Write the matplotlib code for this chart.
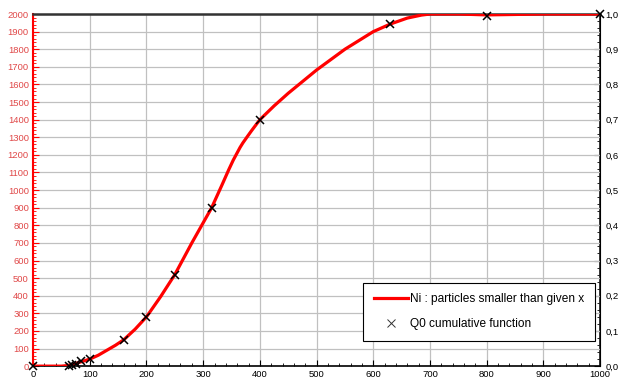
import matplotlib.pyplot as plt
from matplotlib.ticker import MultipleLocator, FuncFormatter

plt.rcParams['font.family'] = ['Liberation Sans', 'DejaVu Sans']

# Ni curve
curve_x = [0, 50, 60, 70, 80, 90, 100, 115, 130, 145, 160, 180, 200, 225, 250, 280, 315,
           322, 333, 345, 353, 360, 365, 370, 377, 385, 392, 400, 425, 450, 500, 550, 600,
           630, 660, 685, 700, 750, 800, 900, 1000]
curve_y = [0, 0, 3, 10, 20, 30, 40, 62, 90, 118, 150, 210, 280, 395, 520, 700, 900,
           950, 1028, 1115, 1170, 1212, 1242, 1268, 1300, 1336, 1366, 1400, 1478, 1550, 1682, 1800, 1900,
           1943, 1977, 1994, 2000, 2000, 1995, 2000, 2000]

# Q0 cumulative function markers
q0_x = [0, 63, 68, 75, 85, 100, 160, 200, 250, 315, 400, 630, 800, 1000]
q0_y = [0, 2, 5, 15, 28, 40, 150, 280, 520, 900, 1400, 1943, 1990, 2000]

red = '#ff0000'
label_red = '#e04848'

fig = plt.figure(figsize=(6.24, 3.83), dpi=100)
ax = fig.add_axes([0.053, 0.044, 0.9087, 0.9194])

ax.plot(curve_x, curve_y, color=red, lw=2.3, label='Ni : particles smaller than given x',
        zorder=3, solid_joinstyle='round')
ax.plot(q0_x, q0_y, 'x', color='black', ms=6, mew=1.1, label='Q0 cumulative function',
        zorder=5, clip_on=False)

ax.set_xlim(0, 1000)
ax.set_ylim(0, 2000)
ax.xaxis.set_major_locator(MultipleLocator(100))
ax.xaxis.set_minor_locator(MultipleLocator(20))
ax.yaxis.set_major_locator(MultipleLocator(100))
ax.yaxis.set_minor_locator(MultipleLocator(20))
ax.grid(True, which='major', color='#c0c0c0', lw=0.9)
ax.set_axisbelow(True)

ax.tick_params(axis='x', which='both', direction='in', labelsize=6.8, colors='black', pad=3)
ax.tick_params(axis='x', which='major', length=4)
ax.tick_params(axis='x', which='minor', length=2)
ax.tick_params(axis='y', which='both', direction='in', labelsize=6.8, colors=red,
               labelcolor=label_red, pad=3)
ax.tick_params(axis='y', which='major', length=4)
ax.tick_params(axis='y', which='minor', length=2)

ax.spines['left'].set_color(red)
ax.spines['left'].set_linewidth(1.5)
ax.spines['bottom'].set_color('black')
ax.spines['bottom'].set_linewidth(1.2)
ax.spines['top'].set_color('#333333')
ax.spines['top'].set_linewidth(1.8)

# right axis 0..1 with comma decimals
ax2 = ax.twinx()
ax2.set_ylim(0, 1)
ax2.yaxis.set_major_locator(MultipleLocator(0.1))
ax2.yaxis.set_minor_locator(MultipleLocator(0.02))
ax2.yaxis.set_major_formatter(FuncFormatter(lambda v, p: f'{v:.1f}'.replace('.', ',')))
ax2.tick_params(axis='y', which='both', direction='in', labelsize=6.8, colors='black', pad=4)
ax2.tick_params(axis='y', which='major', length=4)
ax2.tick_params(axis='y', which='minor', length=2)
ax2.spines['right'].set_color('black')
ax2.spines['right'].set_linewidth(1.2)
for s in ['left', 'top', 'bottom']:
    ax2.spines[s].set_visible(False)
ax.set_zorder(ax2.get_zorder() + 1)
ax.patch.set_visible(False)

# legend handles need the marker a bit lighter than on the plot
handles, labels = ax.get_legend_handles_labels()
leg = ax.legend(handles, labels, loc='lower right', bbox_to_anchor=(0.991, 0.071), fontsize=8.6,
                frameon=True, fancybox=False, edgecolor='black', framealpha=1,
                handlelength=2.9, handletextpad=0.15, borderpad=0.9, labelspacing=1.1,
                borderaxespad=0)
leg.get_frame().set_linewidth(0.8)
leg.set_zorder(10)
leg.legend_handles[1].set_markeredgewidth(0.7)
leg.legend_handles[1].set_color('#333333')

fig.savefig('out.png', dpi=100)
